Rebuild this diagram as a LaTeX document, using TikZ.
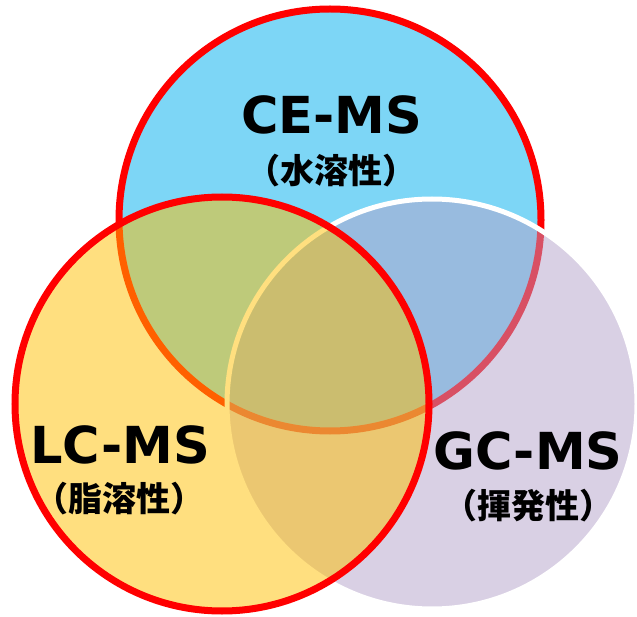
\documentclass[tikz,border=0pt]{standalone}
\usepackage{fontspec}
\setmainfont{DejaVu Sans}
\newfontfamily\jp{Noto Sans CJK JP}
\definecolor{ceblue}{RGB}{125,214,246}
\definecolor{gcpurple}{RGB}{179,161,201}
\definecolor{lcyellow}{RGB}{255,192,0}
\definecolor{ringred}{RGB}{255,0,0}
\tikzset{
  ring/.style={circle, inner sep=0pt, outer sep=0pt},
  big/.style={font=\fontsize{51}{51}\selectfont\bfseries, inner sep=0pt, anchor=base},
  small/.style={font=\jp\fontsize{34}{34}\selectfont\bfseries, inner sep=0pt, anchor=center},
}
\begin{document}
\begin{tikzpicture}[x=1pt,y=-1pt]
\useasboundingbox (0,0) rectangle (637,617);
% CE-MS circle (opaque)
\node[ring, minimum size=422pt, fill=ceblue, draw=ringred, line width=7pt] (ce) at (330,220) {};
% GC-MS circle
\node[ring, minimum size=410pt, fill=gcpurple, fill opacity=0.5, draw=white, draw opacity=1, line width=5pt] (gc) at (432,404) {};
% LC-MS circle
\node[ring, minimum size=414pt, fill=lcyellow, fill opacity=0.5, draw=ringred, draw opacity=1, line width=7pt] (lc) at (222,404) {};
% labels
\node[big] (cet) at (332,134) {CE-MS};
\node[small] (cej) at (331,171) {（水溶性）};
\node[big] (lct) at (120,463) {LC-MS};
\node[small] (lcj) at (119,499) {（脂溶性）};
\node[big] (gct) at (528,469) {GC-MS};
\node[small] (gcj) at (528,506) {（揮発性）};
\end{tikzpicture}
\end{document}
